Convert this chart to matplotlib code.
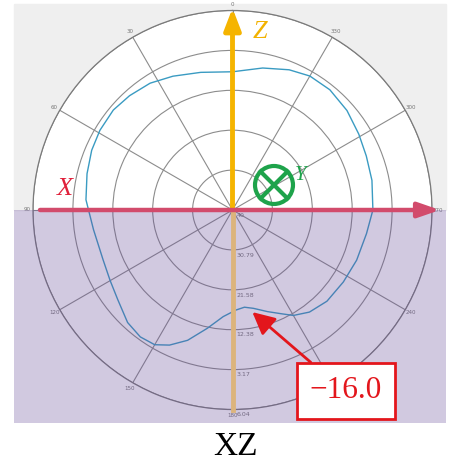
import numpy as np
import matplotlib.pyplot as plt
import matplotlib.transforms as mtransforms
from matplotlib.patches import Rectangle, Circle, FancyArrowPatch
from matplotlib.lines import Line2D

# radiation pattern (angle in degrees, gain in dB)
angles_deg = [0, 13, 24, 33, 42, 50, 59, 67, 76, 86, 98, 111, 120, 128, 137, 144,
              150, 155, 161, 168, 175, 182, 187, 192, 199, 205, 210, 217, 226, 237,
              248, 260, 270, 282, 292, 301, 311, 321, 330, 338, 348, 360]
gain_db = [-8.1, -7.4, -6.2, -5.1, -4.5, -4.1, -4.3, -4.7, -5.4, -6.1, -7.6, -8.0,
           -7.4, -6.4, -4.5, -3.8, -4.1, -5.6, -8.2, -12.1, -15.3, -16.9, -17.4,
           -16.8, -15.2, -13.6, -11.9, -10.5, -9.7, -9.5, -9.1, -8.6, -7.6, -7.1,
           -6.7, -6.0, -5.0, -4.3, -4.3, -5.1, -6.5, -8.1]

r_ticks = [-40.0, -30.79, -21.58, -12.38, -3.17, 6.04]
r_labels = ['40', '30.79', '21.58', '12.38', '3.17', '6.04']
theta_ticks = [0, 30, 60, 90, 120, 150, 180, 210, 240, 270, 300, 330]

marker_angle = 191
marker_value = -16.0
marker_text = '\u221216.0'

fig = plt.figure(figsize=(4.54, 4.62), dpi=100)
fig.patch.set_facecolor('white')

# grey band on top, purple veil on the lower half
fig.patches.append(Rectangle((14 / 454, 1 - 210 / 462), 432 / 454, 206 / 462,
                             transform=fig.transFigure, color='#efefef', zorder=-5))

ax = fig.add_axes([33 / 454, 52.5 / 462, 399 / 454, 399 / 462], projection='polar')
ax.set_theta_zero_location('N')
ax.set_theta_direction(1)
ax.set_facecolor('white')

ax.plot(np.deg2rad(angles_deg), gain_db, color='#3a9bc2', lw=1.0, zorder=2)

ax.set_ylim(r_ticks[0], r_ticks[-1])
ax.set_yticks(r_ticks)
ax.set_yticklabels([])
ax.set_thetagrids(theta_ticks, [str(t) for t in theta_ticks])
ax.tick_params(axis='x', labelsize=4, labelcolor='#777777', pad=-2.5, length=0)
ax.grid(True, color='#8c8c8c', lw=0.8)
ax.spines['polar'].set_color('#7a7a7a')
ax.spines['polar'].set_linewidth(0.9)

offset = mtransforms.offset_copy(ax.transData, fig=fig, x=3, y=-2, units='points')
for v, lab in zip(r_ticks, r_labels):
    ax.text(np.pi, v, lab, transform=offset, ha='left', va='top', fontsize=4.5,
            color='#777777', zorder=2)

# purple overlay
ax.add_artist(Rectangle((14 / 454, 1 - 423 / 462), 432 / 454, 213 / 462,
                        transform=fig.transFigure, color='#684c9a', alpha=0.3,
                        lw=0, clip_on=False, zorder=3))

# Z axis
z_arrow = FancyArrowPatch((0.5, 0.5), (0.5, 1.006), transform=ax.transAxes,
                          arrowstyle='-|>,head_length=13,head_width=5',
                          color='#f5b400', lw=3.5, shrinkA=0, shrinkB=0,
                          clip_on=False, zorder=4)
ax.add_artist(z_arrow)
ax.add_artist(Line2D([0.5, 0.5], [0.0, 0.5], transform=ax.transAxes,
                     color='#dcb47c', lw=3.5, clip_on=False, zorder=4))

# X axis
x_arrow = FancyArrowPatch((0.0175, 0.5), (1.02, 0.5), transform=ax.transAxes,
                          arrowstyle='-|>,head_length=13,head_width=4.5',
                          color='#d24b6c', lw=3.2, shrinkA=0, shrinkB=0,
                          clip_on=False, zorder=5)
ax.add_artist(x_arrow)

# Y axis (into the page)
cx, cy, rad = 0.604, 0.5627, 0.0476
green = '#1ea34b'
ax.add_artist(Circle((cx, cy), rad, transform=ax.transAxes, fill=False, ec=green,
                     lw=3, clip_on=False, zorder=6))
d = rad * np.cos(np.pi / 4)
ax.add_artist(Line2D([cx - d, cx + d], [cy - d, cy + d], transform=ax.transAxes,
                     color=green, lw=3, clip_on=False, zorder=6))
ax.add_artist(Line2D([cx - d, cx + d], [cy + d, cy - d], transform=ax.transAxes,
                     color=green, lw=3, clip_on=False, zorder=6))

serif = 'Liberation Serif'
fig.text(65 / 454, 1 - 189 / 462, 'X', color='#e0203a', fontsize=19, style='italic',
         family=serif, ha='center', va='center')
fig.text(260 / 454, 1 - 32 / 462, 'Z', color='#f2b200', fontsize=19, style='italic',
         family=serif, ha='center', va='center')
fig.text(301 / 454, 1 - 176 / 462, 'Y', color=green, fontsize=15, style='italic',
         family=serif, ha='center', va='center')

ax.annotate(marker_text, xy=(np.deg2rad(marker_angle), marker_value),
            xytext=(346, 462 - 391), textcoords='figure pixels',
            ha='center', va='center', fontsize=22.5, family=serif, color='#e3161c',
            bbox=dict(boxstyle='square,pad=0.42', fc='white', ec='#e3161c', lw=2),
            arrowprops=dict(arrowstyle='-|>,head_length=0.6,head_width=0.3',
                            color='#e3161c', lw=2, shrinkA=0, shrinkB=0,
                            relpos=(0.24, 1.0)),
            zorder=7, annotation_clip=False)

fig.text(235 / 454, 1 - 455 / 462, 'XZ', fontsize=24, family=serif, ha='center',
         va='baseline', color='black')

fig.savefig('out.png', dpi=100)
